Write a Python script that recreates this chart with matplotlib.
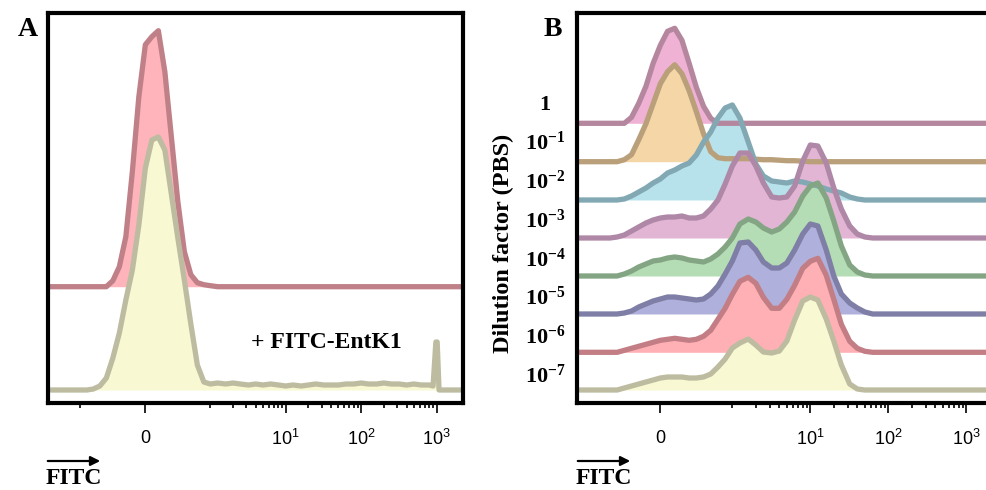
import matplotlib
matplotlib.use("Agg")
import matplotlib.pyplot as plt
from matplotlib.transforms import blended_transform_factory

plt.rcParams['mathtext.fontset'] = 'custom'
plt.rcParams['mathtext.rm'] = 'Liberation Serif:bold'
plt.rcParams['mathtext.it'] = 'Liberation Serif:italic:bold'
plt.rcParams['mathtext.bf'] = 'Liberation Serif:bold'
plt.rcParams['mathtext.sf'] = 'Liberation Sans'

# ---------------- data ----------------
# Panel A: FITC values (bin centres) and histogram heights
a_x = [-3, -1, -0.9, -0.8, -0.7, -0.6, -0.5, -0.4, -0.3, -0.2, -0.1, 0, 0.1, 0.2, 0.3,
       0.4, 0.5, 0.6, 0.7, 0.8, 0.9, 1.0,
       1.25, 1.6, 2, 2.5, 3.2, 4, 5, 6.3, 8,
       10, 12.5, 16, 20, 25, 32, 40, 50, 63, 80,
       100, 125, 160, 200, 250, 320, 400, 500, 630, 800,
       900, 980, 1020, 1080, 3000]
a_control = [0, 0, 0, 0, 0, 0, 6, 20, 50, 115, 190, 242, 250, 256, 215,
             150, 85, 35, 12, 4, 2, 1,
             0, 0, 0, 0, 0, 0, 0, 0, 0,
             0, 0, 0, 0, 0, 0, 0, 0, 0, 0,
             0, 0, 0, 0, 0, 0, 0, 0, 0, 0,
             0, 0, 0, 0, 0]
a_entk1 = [0, 0, 0, 1, 4, 12, 32, 57, 90, 120, 165, 222, 250, 253, 240,
           196, 152, 110, 66, 25, 8, 6,
           7, 6, 7, 6, 5, 6, 5, 6, 5,
           4, 5, 4, 5, 6, 5, 5, 5, 6, 6,
           7, 6, 6, 7, 6, 6, 5, 6, 5, 5,
           4, 48, 48, 0, 0]
a_offsets = [116.6, 13.3]

# Panel B: FITC values (bin centres) and histogram heights per dilution
b_x = [-2, -1, -0.8, -0.7,
       -0.6, -0.5, -0.4, -0.3, -0.2, -0.1, 0, 0.1, 0.2, 0.3, 0.4, 0.5, 0.6, 0.7, 0.8, 0.9, 1.0,
       1.25, 1.6, 2, 2.5, 3.2, 4, 5, 6.3, 8,
       10, 12.5, 16, 20, 25, 32, 40, 50, 63, 80,
       100, 150, 300, 3000]
b_d0 = [0, 0, 0, 0,
        0, 0, 6, 20, 37, 60, 78, 92, 95, 83, 60, 36, 17, 5, 0, 0, 0,
        0, 0, 0, 0, 0, 0, 0, 0, 0,
        0, 0, 0, 0, 0, 0, 0, 0, 0, 0,
        0, 0, 0, 0]
b_d1 = [0, 0, 0, 0,
        0, 2, 7, 22, 38, 58, 78, 90, 97, 88, 71, 50, 28, 10, 4, 3, 3,
        3, 3, 2.5, 2, 2, 1.5, 1, 1, 0.5,
        0, 0, 0, 0, 0, 0, 0, 0, 0, 0,
        0, 0, 0, 0]
b_d2 = [0, 0, 0, 0,
        0, 1, 4, 8, 12, 17, 21, 27, 30, 34, 37, 45, 58, 68, 82, 92, 95,
        82, 58, 36, 24, 19, 18, 17, 19, 18,
        16, 14, 11, 9, 7, 3, 1, 0, 0, 0,
        0, 0, 0, 0]
b_d3 = [0, 0, 0, 0,
        1, 3, 7, 11, 15, 18, 20, 21, 21, 22, 20, 20, 22, 29, 38, 54, 72,
        85, 85, 72, 55, 41, 40, 41, 52, 77,
        93, 92, 75, 50, 29, 12, 4, 1, 0, 0,
        0, 0, 0, 0]
b_d4 = [0, 0, 0, 0,
        0, 2, 5, 9, 12, 15, 16, 18, 19, 18, 16, 15, 14, 17, 22, 29, 38,
        52, 57, 54, 48, 44, 47, 54, 64, 80,
        90, 93, 78, 55, 30, 11, 4, 1, 0, 0,
        0, 0, 0, 0]
b_d5 = [0, 0, 0, 0,
        0, 1, 3, 7, 10, 13, 15, 17, 17, 16, 15, 14, 15, 20, 28, 40, 53,
        71, 72, 64, 52, 46, 46, 51, 64, 80,
        90, 88, 64, 38, 20, 11, 6, 2, 0, 0,
        0, 0, 0, 0]
b_d6 = [0, 0, 0, 0,
        0, 2, 4, 6, 8, 10, 12, 13, 14, 13, 12, 13, 16, 22, 33, 44, 58,
        71, 75, 69, 55, 44, 44, 53, 67, 84,
        91, 94, 77, 53, 28, 11, 4, 1, 0, 0,
        0, 0, 0, 0]
b_d7 = [0, 0, 0, 0,
        0, 2, 4, 6, 8, 10, 12, 13, 13, 13, 12, 12, 13, 16, 23, 31, 42,
        47, 51, 45, 38, 37, 39, 49, 70, 89,
        93, 90, 71, 49, 25, 6, 1, 0, 0, 0,
        0, 0, 0, 0]
b_series = [b_d0, b_d1, b_d2, b_d3, b_d4, b_d5, b_d6, b_d7]
b_offsets = [280, 241.6, 203.3, 165.3, 127.3, 89.3, 51, 13.3]
b_labels = ['1', r'$10^{-1}$', r'$10^{-2}$', r'$10^{-3}$', r'$10^{-4}$',
            r'$10^{-5}$', r'$10^{-6}$', r'$10^{-7}$']
b_label_y = [298.3, 259.8, 221.3, 182.3, 143.3, 105.3, 66.3, 27.3]

major_ticks = [0, 10, 100, 1000]
major_labels = [r'$\mathsf{0}$', r'$\mathsf{10^{1}}$', r'$\mathsf{10^{2}}$', r'$\mathsf{10^{3}}$']
minor_a = [-1] + list(range(1, 10)) + list(range(20, 100, 10)) + list(range(200, 1000, 100))
minor_b = list(range(1, 10)) + list(range(20, 100, 10)) + list(range(200, 1000, 100))

# ---------------- styles ----------------
a_fill = ['#FFB3BA', '#F8F8D2']
a_edge = ['#C08088', '#BDBCA0']
b_fill = ['#F0B2D4', '#F5D6A6', '#B8E2EB', '#E3B5D5', '#B5DDB5', '#B0B0DC', '#FFB0B5', '#F8F8D2']
b_edge = ['#B5879F', '#B9A07A', '#82A9B3', '#AE88A6', '#83A583', '#7E7EA6', '#C27E84', '#BDBCA0']

W, H = 987, 490
fig = plt.figure(figsize=(W / 100, H / 100), dpi=100)


def fx(px):
    return px / W


def fy(py):
    return 1 - py / H


ax_w = 415.3 / W
ax_b = fy(403.3)
ax_h = 390 / H
axA = fig.add_axes([fx(47.7), ax_b, ax_w, ax_h])
axB = fig.add_axes([fx(576.7), ax_b, ax_w, ax_h])

LW = 3.8


def draw(ax, x, ys, offs, fills, edges):
    for y, off, fc, ec in zip(ys, offs, fills, edges):
        top = [off + v for v in y]
        ax.fill_between(x, off, top, color=fc, lw=0)
        ax.plot(x, top, color=ec, lw=LW, solid_joinstyle='round', solid_capstyle='butt')


draw(axA, a_x, [a_control, a_entk1], a_offsets, a_fill, a_edge)
draw(axB, b_x, b_series, b_offsets, b_fill, b_edge)

axA.set_xscale('symlog', linthresh=1, linscale=0.776)
axB.set_xscale('symlog', linthresh=1, linscale=0.831)
axA.set_xlim(-2.71, 2245)
axB.set_xlim(-1.41, 2137)

for ax, mn in ((axA, minor_a), (axB, minor_b)):
    ax.set_ylim(0, 390)
    ax.set_yticks([])
    ax.set_xticks(major_ticks)
    ax.set_xticklabels(major_labels)
    ax.set_xticks(mn, minor=True)
    ax.tick_params(axis='x', which='major', direction='out', length=7.2, width=1.2,
                   pad=11, labelsize=13)
    ax.tick_params(axis='x', which='minor', direction='out', length=3.6, width=1.2)
    for s in ax.spines.values():
        s.set_linewidth(3)
        s.set_color('black')
    ax.patch.set_alpha(0)

# row labels for panel B
trans = blended_transform_factory(axB.transAxes, axB.transData)
for lab, yy in zip(b_labels, b_label_y):
    axB.text((545 - 576.7) / 415.3, yy, lab, transform=trans, ha='center', va='center',
             fontsize=16, fontfamily='Liberation Serif', fontweight='bold', clip_on=False)

serif = dict(fontfamily='Liberation Serif', fontweight='bold', color='black')
fig.text(fx(28), fy(29), 'A', ha='center', va='center', fontsize=20, **serif)
fig.text(fx(553), fy(29), 'B', ha='center', va='center', fontsize=20, **serif)
fig.text(fx(326), fy(343), '+ FITC-EntK1', ha='center', va='center', fontsize=17, **serif)
fig.text(fx(503), fy(243.5), 'Dilution factor (PBS)', ha='center', va='center',
         rotation=90, fontsize=17.5, **serif)

for x0 in (45, 575):
    fig.text(fx(x0 + 29), fy(478), 'FITC', ha='center', va='center', fontsize=17, **serif)
    fig.add_artist(matplotlib.patches.FancyArrowPatch(
        (fx(x0), fy(461)), (fx(x0 + 58), fy(461)), transform=fig.transFigure,
        arrowstyle='-|>', mutation_scale=14, lw=1.6, color='black'))

fig.savefig('out.png', dpi=100)
